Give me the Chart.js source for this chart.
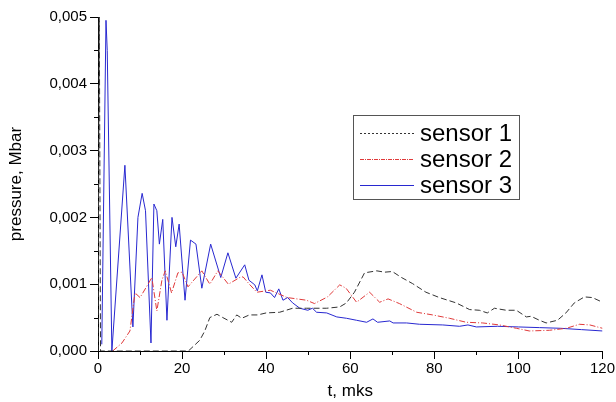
<!DOCTYPE html>
<html>
<head>
<meta charset="utf-8">
<script src="https://cdn.jsdelivr.net/npm/chart.js@4"></script>
<style>
  html, body { margin: 0; padding: 0; background: #fff; }
  #wrap { width: 616px; height: 402px; }
</style>
</head>
<body>
<div id="wrap"><canvas id="chart-main"></canvas></div>
<script>
// time, mks
const s1T = [0, 0.3, 0.6, 21.5, 24.2, 25.4, 26.6, 28.3, 29.7, 31.8, 33, 34.2, 36, 38, 40, 43.2, 46.3, 49.6, 54.4, 57.5, 59.1, 61, 63.4, 66.3, 68.2, 70, 72.2, 74.8, 78, 81.2, 85.2, 88.4, 90.7, 92.6, 94.3, 97.1, 99.5, 101.9, 103, 105, 106.6, 109.3, 111.3, 113.3, 115.7, 117.6, 120];
const s1P = [0, 0.0052, 0, 0, 0.00016, 0.0003, 0.0005, 0.00055, 0.0005, 0.00043, 0.00054, 0.00049, 0.00054, 0.00054, 0.00057, 0.00058, 0.00064, 0.00064, 0.00064, 0.00066, 0.00072, 0.00088, 0.00117, 0.0012, 0.00118, 0.00119, 0.0011, 0.00101, 0.00088, 0.0008, 0.00072, 0.00062, 0.00061, 0.00057, 0.00064, 0.00061, 0.00061, 0.00051, 0.00052, 0.00046, 0.00042, 0.00046, 0.00057, 0.00072, 0.00081, 0.0008, 0.00073];

const s2T = [3.5, 5.7, 7.6, 8.8, 10, 11.9, 12.8, 14, 15.2, 16, 17.5, 19, 20, 21.4, 24.7, 26.6, 28.5, 31, 33.7, 34.5, 36, 37.8, 41, 45, 49.6, 51.5, 54.6, 57.5, 59, 61.5, 64.6, 67, 69, 71.7, 75.8, 79.6, 83.6, 87.6, 91.5, 95.5, 99.5, 102.6, 107.4, 111.4, 114.5, 117, 120];
const s2P = [0, 0.00012, 0.0003, 0.00087, 0.0008, 0.001, 0.0011, 0.0006, 0.00106, 0.0012, 0.00087, 0.00117, 0.00118, 0.00096, 0.0012, 0.001, 0.0012, 0.001, 0.0011, 0.00111, 0.001, 0.00088, 0.00091, 0.0008, 0.00076, 0.00071, 0.00081, 0.00099, 0.00094, 0.00073, 0.00088, 0.00073, 0.00078, 0.00071, 0.00058, 0.00054, 0.00049, 0.00043, 0.00042, 0.00039, 0.00034, 0.0003, 0.00031, 0.00034, 0.0004, 0.00039, 0.00034];

const s3T = [0.9, 1.9, 2.2, 3.3, 6.4, 8.3, 9.5, 10.5, 11.3, 12.6, 13.3, 14, 14.6, 15.4, 16.4, 17.6, 18.5, 19.3, 20.7, 22, 23.3, 24.7, 26.8, 29.2, 30.9, 32.8, 34.9, 35.9, 37.3, 37.9, 39, 39.9, 41, 42, 43, 44, 45.1, 46.3, 48, 49.9, 51, 52, 54.4, 56.8, 59.1, 61.5, 63.9, 65.4, 66.5, 69.4, 70.2, 73.4, 76.5, 82, 86, 88, 90, 95, 100, 105, 110, 115, 120];
const s3P = [0.0001, 0.00495, 0.0045, 0, 0.00278, 0.00036, 0.002, 0.00236, 0.0021, 0.00012, 0.0022, 0.0021, 0.0016, 0.00197, 0.00046, 0.002, 0.00156, 0.0019, 0.00076, 0.00166, 0.0016, 0.00094, 0.0016, 0.0011, 0.00147, 0.00109, 0.00129, 0.00106, 0.00099, 0.0009, 0.00114, 0.00088, 0.00087, 0.0008, 0.00093, 0.00076, 0.0008, 0.00072, 0.00064, 0.00061, 0.00064, 0.00058, 0.00057, 0.00051, 0.00049, 0.00046, 0.00043, 0.00048, 0.00043, 0.00045, 0.00042, 0.00042, 0.0004, 0.00039, 0.00037, 0.00039, 0.00036, 0.00037, 0.00036, 0.00035, 0.00034, 0.00032, 0.0003];

const seriesLabels = ["sensor 1", "sensor 2", "sensor 3"];
const seriesColors = ["#333333", "#e03a3a", "#2828d0"];
const xTitle = "t, mks";
const yTitle = "pressure, Mbar";

const fontFamily = "'Liberation Sans', Arial, sans-serif";

function toPoints(ts, ps) {
    return ts.map((t, i) => ({ x: t, y: ps[i] }));
}

// minor ticks between the labelled ones
const minorTicks = {
    id: "minorTicks",
    afterDraw(chart) {
        const ctx = chart.ctx;
        const xs = chart.scales.x;
        const ys = chart.scales.y;
        ctx.save();
        ctx.strokeStyle = "#000";
        ctx.lineWidth = 1;
        ctx.beginPath();
        for (let v = 0.0005; v < 0.005; v += 0.001) {
            let py = Math.round(ys.getPixelForValue(v)) + 0.5;
            ctx.moveTo(xs.left - 4, py);
            ctx.lineTo(xs.left, py);
        }
        for (let v = 10; v < 120; v += 20) {
            let px = Math.round(xs.getPixelForValue(v)) + 0.5;
            ctx.moveTo(px, ys.bottom);
            ctx.lineTo(px, ys.bottom + 4);
        }
        ctx.stroke();
        ctx.restore();
    }
};

// finer dash patterns for the short legend samples
const legendDash = [[2, 2], [4, 1, 1, 1], []];

// boxed legend sitting inside the plot
const boxLegend = {
    id: "boxLegend",
    afterDraw(chart) {
        const ctx = chart.ctx;
        const left = 353, top = 115, w = 166, h = 84;
        ctx.save();
        ctx.fillStyle = "#fff";
        ctx.fillRect(left, top, w, h);
        ctx.strokeStyle = "#555";
        ctx.lineWidth = 1;
        ctx.strokeRect(left + 0.5, top + 0.5, w, h);
        ctx.font = "24px " + fontFamily;
        ctx.textBaseline = "middle";
        seriesLabels.forEach((label, i) => {
            let y = top + 18 + i * 26;
            ctx.strokeStyle = seriesColors[i];
            ctx.setLineDash(legendDash[i]);
            ctx.beginPath();
            ctx.moveTo(left + 7, y + 0.5);
            ctx.lineTo(left + 61, y + 0.5);
            ctx.stroke();
            ctx.setLineDash([]);
            ctx.fillStyle = "#000";
            ctx.fillText(label, left + 67, y + 1);
        });
        ctx.restore();
    }
};

const graph = document.getElementById("chart-main");
const myChart = new Chart(graph, {
    type: "scatter",
    data: {
        datasets: [{
            label: seriesLabels[0],
            data: toPoints(s1T, s1P),
            borderColor: seriesColors[0],
            borderWidth: 1,
            borderDash: [6, 3]
        }, {
            label: seriesLabels[1],
            data: toPoints(s2T, s2P),
            borderColor: seriesColors[1],
            borderWidth: 1,
            borderDash: [6, 2, 1, 2]
        }, {
            label: seriesLabels[2],
            data: toPoints(s3T, s3P),
            borderColor: seriesColors[2],
            borderWidth: 1
        }]
    },
    options: {
        responsive: true,
        maintainAspectRatio: false,
        animation: false,
        showLine: true,
        elements: { point: { radius: 0 }, line: { tension: 0 } },
        layout: { padding: { top: 17, right: 12, left: 0, bottom: 0 } },
        plugins: {
            legend: { display: false },
            tooltip: { enabled: false }
        },
        scales: {
            x: {
                type: "linear",
                min: 0,
                max: 120,
                afterFit: (scale) => { scale.height = 51; },
                border: { color: "#000", width: 1 },
                grid: { drawOnChartArea: false, drawTicks: true, tickLength: 8, tickColor: "#000" },
                ticks: {
                    stepSize: 20,
                    color: "#000",
                    padding: 1,
                    maxRotation: 0,
                    font: { family: fontFamily, size: 15 }
                },
                title: {
                    display: true,
                    text: xTitle,
                    color: "#000",
                    padding: { top: 7, bottom: 0 },
                    font: { family: fontFamily, size: 17 }
                }
            },
            y: {
                min: 0,
                max: 0.005,
                afterFit: (scale) => { scale.width = 98; },
                border: { color: "#000", width: 1 },
                grid: { drawOnChartArea: false, drawTicks: true, tickLength: 8, tickColor: "#000" },
                ticks: {
                    stepSize: 0.001,
                    color: "#000",
                    padding: 3,
                    font: { family: fontFamily, size: 15 },
                    callback: (v) => v.toFixed(3).replace(".", ",")
                },
                title: {
                    display: true,
                    text: yTitle,
                    color: "#000",
                    padding: { top: 6, bottom: 12 },
                    font: { family: fontFamily, size: 17 }
                }
            }
        }
    },
    plugins: [minorTicks, boxLegend]
});
</script>
</body>
</html>
